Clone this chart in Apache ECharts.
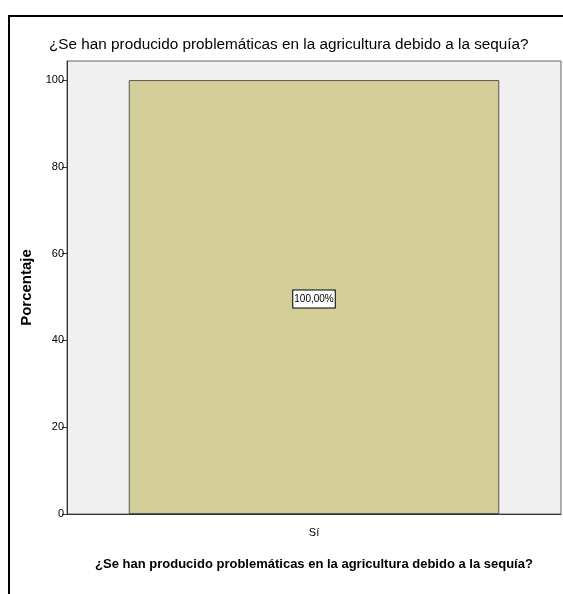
<!DOCTYPE html>
<html>
<head>
<meta charset="utf-8">
<script src="https://cdn.jsdelivr.net/npm/echarts@6/dist/echarts.min.js"></script>
<style>
  html, body { margin: 0; padding: 0; background: #fff; }
  #wrap { position: relative; width: 563px; height: 594px; }
  #chart { width: 563px; height: 594px; }
  #frame {
    position: absolute; left: 8px; top: 15px; right: -4px; bottom: -4px;
    border-left: 2px solid #000; border-top: 2px solid #000;
    pointer-events: none;
  }
</style>
</head>
<body>
<div id="wrap">
  <div id="chart"></div>
  <div id="frame"></div>
</div>
<script>
const chartTitle = '¿Se han producido problemáticas en la agricultura debido a la sequía?'
const categories = ['Sí']
const percentValues = [100]
const yTicks = [0, 20, 40, 60, 80, 100]

const narrow = '"Liberation Sans Narrow", "Arial Narrow", "Liberation Sans", sans-serif'

let chartDom = echarts.init(document.getElementById('chart'))
const option = {
  animation: false,
  title: {
    text: chartTitle,
    left: 44,
    top: 32,
    textStyle: { fontFamily: narrow, fontSize: 15.3, fontWeight: 'normal', color: '#000' },
  },
  grid: {
    left: 67,
    right: 2,
    top: 61,
    bottom: 80,
    show: true,
    backgroundColor: '#f0f0f0',
    borderColor: '#666',
    borderWidth: 1,
  },
  xAxis: {
    type: 'category',
    data: categories,
    name: chartTitle,
    nameLocation: 'middle',
    nameGap: 44,
    nameTextStyle: { fontFamily: narrow, fontSize: 13, fontWeight: 'bold', color: '#000' },
    axisLine: { lineStyle: { color: '#333', width: 1 } },
    axisTick: { alignWithLabel: true, length: 7, lineStyle: { color: '#333' } },
    axisLabel: { fontFamily: narrow, fontSize: 11, color: '#000', margin: 13 },
  },
  yAxis: {
    type: 'value',
    min: 0,
    max: 104.4,
    interval: 20,
    name: 'Porcentaje',
    nameLocation: 'middle',
    nameGap: 27,
    nameTextStyle: { fontFamily: 'Liberation Sans, Arial, sans-serif', fontSize: 15, fontWeight: 'bold', color: '#000' },
    axisLine: { show: true, lineStyle: { color: '#333' } },
    axisTick: { show: true, length: 5, customValues: yTicks, lineStyle: { color: '#333' } },
    axisLabel: { fontFamily: narrow, fontSize: 11, color: '#000', margin: 3, customValues: yTicks },
    splitLine: { show: false },
  },
  series: [
    {
      type: 'bar',
      data: percentValues,
      barWidth: '75%',
      itemStyle: { color: '#d3ce97', borderColor: '#555', borderWidth: 1 },
      label: {
        show: true,
        position: 'inside',
        offset: [0, 2],
        formatter: (p) => p.value.toFixed(2).replace('.', ',') + '%',
        fontFamily: narrow,
        fontSize: 10,
        color: '#000',
        backgroundColor: '#fff',
        borderColor: '#000',
        borderWidth: 1,
        padding: [4, 1, 3, 1],
      },
    },
  ],
}
chartDom.setOption(option)
</script>
</body>
</html>
